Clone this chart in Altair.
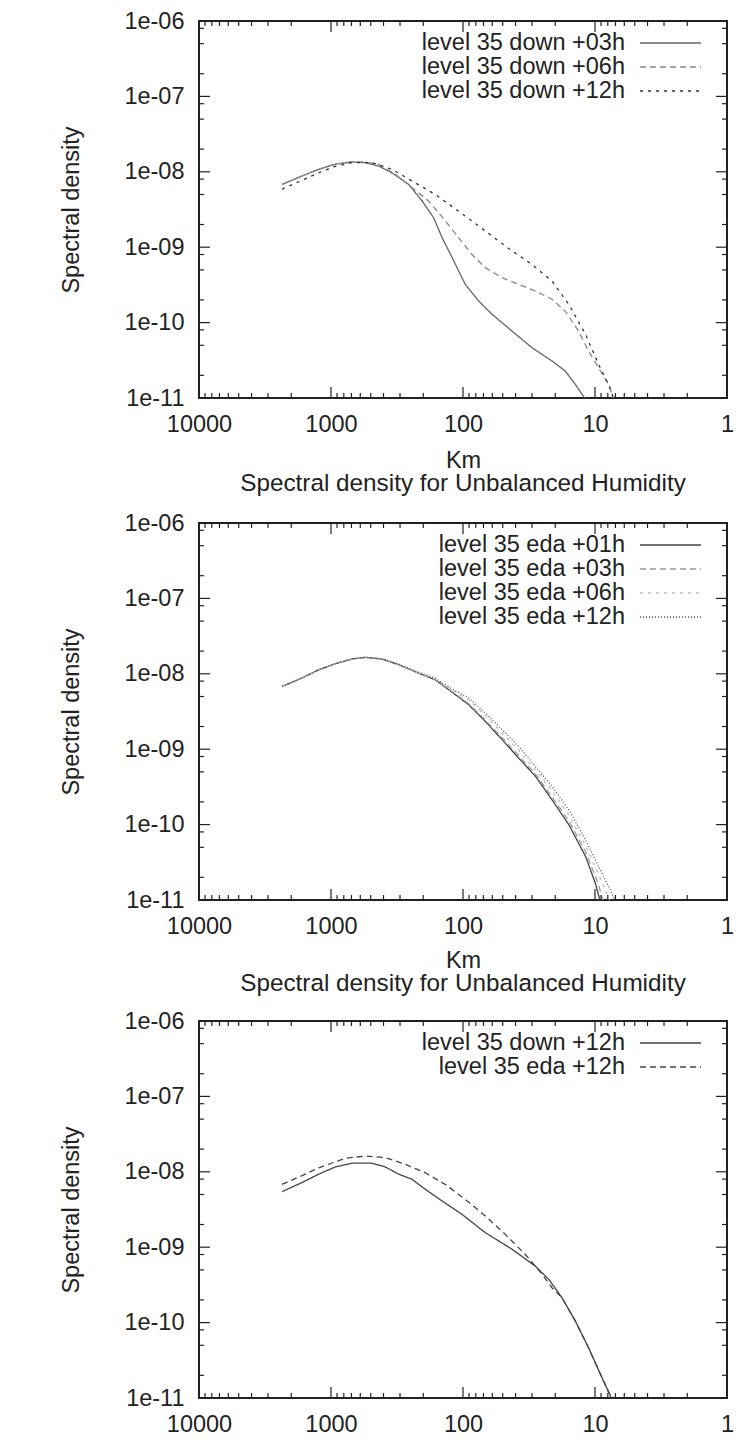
import altair as alt
import pandas as pd

FONT = "Liberation Sans"
FS = 23.5
TXT = "#222"
W, H = 528, 377

# ---- axis ticks / labels ----
x_major = [10000, 1000, 100, 10, 1]
x_labels = ["10000", "1000", "100", "10", "1"]
x_minor = [m * d for d in (1000, 100, 10, 1) for m in range(2, 10)]
y_major = [1e-6, 1e-7, 1e-8, 1e-9, 1e-10, 1e-11]
y_labels = ["1e-06", "1e-07", "1e-08", "1e-09", "1e-10", "1e-11"]
y_minor = [m * d for d in (1e-7, 1e-8, 1e-9, 1e-10, 1e-11) for m in (2, 5, 8)]

title_txt = "Spectral density for Unbalanced Humidity"

# ---- panel 1: level 35 down ----
p1_names = ["level 35 down +03h", "level 35 down +06h", "level 35 down +12h"]
p1_km_03 = [2350, 1658, 1240, 928, 693, 550, 435, 345, 258, 204, 167, 144, 121, 96, 76, 60.3, 42.5, 30.0, 21.2, 16.8, 14.1, 11.8]
p1_v_03 = [6.8e-9, 8.8e-9, 1.08e-8, 1.26e-8, 1.35e-8, 1.32e-8, 1.19e-8, 9.7e-9, 6.8e-9, 4.1e-9, 2.46e-9, 1.34e-9, 7.3e-10, 3.2e-10, 1.93e-10, 1.29e-10, 7.7e-11, 4.65e-11, 3.1e-11, 2.28e-11, 1.52e-11, 9.6e-12]
p1_km_06 = [2350, 1658, 1240, 928, 693, 550, 435, 326, 243, 182, 136, 108, 85.5, 67.8, 50.6, 37.8, 28.3, 21.2, 16.8, 13.3, 11.2, 9.4, 7.9, 7.2]
p1_v_06 = [6.8e-9, 8.8e-9, 1.08e-8, 1.27e-8, 1.36e-8, 1.34e-8, 1.26e-8, 9.3e-9, 6.15e-9, 4.1e-9, 2.23e-9, 1.34e-9, 8.0e-10, 5.35e-10, 3.94e-10, 3.22e-10, 2.62e-10, 2.04e-10, 1.42e-10, 7.7e-11, 4.2e-11, 2.52e-11, 1.52e-11, 9.6e-12]
p1_km_12 = [2350, 1658, 1240, 928, 693, 489, 345, 243, 162, 108, 67.8, 42.5, 30.0, 21.2, 15.8, 11.8, 9.4, 7.7, 7.2]
p1_v_12 = [5.9e-9, 7.7e-9, 9.7e-9, 1.18e-8, 1.32e-8, 1.32e-8, 1.08e-8, 7.55e-9, 5.0e-9, 3.0e-9, 1.64e-9, 8.9e-10, 5.9e-10, 3.56e-10, 1.75e-10, 7.0e-11, 2.8e-11, 1.37e-11, 9.6e-12]

# ---- panel 2: level 35 eda ----
p2_names = ["level 35 eda +01h", "level 35 eda +03h", "level 35 eda +06h", "level 35 eda +12h"]
p2_km_01 = [2350, 1658, 1240, 928, 693, 550, 411, 307, 217, 162, 121, 90.5, 67.8, 50.6, 37.8, 28.3, 21.2, 15.8, 11.8, 9.95, 9.12]
p2_v_01 = [6.8e-9, 8.8e-9, 1.13e-8, 1.36e-8, 1.57e-8, 1.65e-8, 1.57e-8, 1.32e-8, 1.02e-8, 8.3e-9, 5.7e-9, 3.89e-9, 2.34e-9, 1.34e-9, 7.6e-10, 4.4e-10, 2.14e-10, 1.0e-10, 3.8e-11, 1.68e-11, 9.6e-12]
p2_km_03 = [2350, 1658, 1240, 928, 693, 550, 411, 307, 217, 162, 121, 90.5, 67.8, 50.6, 37.8, 28.3, 21.2, 15.8, 11.8, 9.4, 8.7]
p2_v_03 = [6.8e-9, 8.8e-9, 1.13e-8, 1.36e-8, 1.57e-8, 1.65e-8, 1.57e-8, 1.32e-8, 1.02e-8, 8.35e-9, 5.8e-9, 4.0e-9, 2.45e-9, 1.42e-9, 8.2e-10, 4.7e-10, 2.35e-10, 1.12e-10, 4.4e-11, 1.6e-11, 9.6e-12]
p2_km_06 = [2350, 1658, 1240, 928, 693, 550, 411, 307, 217, 162, 121, 90.5, 67.8, 50.6, 37.8, 28.3, 21.2, 15.8, 11.8, 9.4, 7.7]
p2_v_06 = [6.8e-9, 8.8e-9, 1.13e-8, 1.36e-8, 1.57e-8, 1.66e-8, 1.58e-8, 1.33e-8, 1.03e-8, 8.5e-9, 6.1e-9, 4.5e-9, 2.8e-9, 1.65e-9, 9.7e-10, 5.3e-10, 2.8e-10, 1.35e-10, 5.3e-11, 2.2e-11, 9.6e-12]
p2_km_12 = [2350, 1658, 1240, 928, 693, 550, 411, 307, 217, 162, 121, 90.5, 67.8, 50.6, 37.8, 28.3, 21.2, 15.8, 11.8, 9.4, 7.9, 7.0]
p2_v_12 = [6.8e-9, 8.8e-9, 1.13e-8, 1.37e-8, 1.58e-8, 1.66e-8, 1.59e-8, 1.34e-8, 1.05e-8, 8.7e-9, 6.3e-9, 4.78e-9, 3.02e-9, 1.82e-9, 1.09e-9, 5.9e-10, 3.22e-10, 1.58e-10, 6.3e-11, 2.8e-11, 1.52e-11, 9.6e-12]

# ---- panel 3: down vs eda +12h ----
p3_names = ["level 35 down +12h", "level 35 eda +12h"]
p3_km_down = [2350, 1658, 1240, 928, 693, 489, 388, 307, 243, 193, 144, 101.8, 67.8, 42.5, 28.3, 22.4, 17.8, 14.1, 11.2, 8.85, 7.43]
p3_v_down = [5.45e-9, 7.2e-9, 9.3e-9, 1.16e-8, 1.30e-8, 1.30e-8, 1.16e-8, 9.3e-9, 7.95e-9, 5.86e-9, 4.1e-9, 2.73e-9, 1.56e-9, 9.4e-10, 5.6e-10, 3.75e-10, 2.14e-10, 1.05e-10, 4.65e-11, 1.86e-11, 9.6e-12]
p3_km_eda = [2350, 1658, 1240, 779, 550, 388, 274, 193, 136, 96.1, 67.8, 47.8, 33.7, 25.2, 21.2, 17.8, 14.1, 11.2, 8.85, 7.43]
p3_v_eda = [6.83e-9, 8.9e-9, 1.13e-8, 1.51e-8, 1.62e-8, 1.54e-8, 1.26e-8, 9.7e-9, 6.8e-9, 4.3e-9, 2.6e-9, 1.48e-9, 8.0e-10, 4.4e-10, 2.9e-10, 2.14e-10, 1.05e-10, 4.65e-11, 1.86e-11, 9.6e-12]


def chain_expr(values, labels):
    expr = "'" + labels[-1] + "'"
    for v, lab in reversed(list(zip(values[:-1], labels[:-1]))):
        expr = "datum.value > %g ? '%s' : %s" % (v / 3.1623, lab, expr)
    return expr


xscale = alt.Scale(type="log", domain=[1, 10000], reverse=True, nice=False)
yscale = alt.Scale(type="log", domain=[1e-11, 1e-6], nice=False)


def make_xaxis(title_pad):
    return alt.Axis(values=x_major, labelExpr=chain_expr(x_major, x_labels), ticks=False,
                    domain=False, grid=False, labelFontSize=FS, labelColor=TXT,
                    labelPadding=14, labelFlush=False, labelOverlap=False,
                    title="Km", titleFontSize=FS, titleFontWeight="normal",
                    titleColor=TXT, titlePadding=title_pad)


yaxis = alt.Axis(values=y_major, labelExpr=chain_expr(y_major, y_labels), ticks=False,
                 domain=False, grid=False, labelFontSize=FS, labelColor=TXT,
                 labelPadding=15, labelFlush=False, labelOverlap=False,
                 title="Spectral density", titleFontSize=FS, titleFontWeight="normal",
                 titleColor=TXT, titlePadding=40)

Y = alt.Y("v:Q", scale=yscale, axis=yaxis)

MAJ, MIN = 11, 5


def tick_layers(X):
    layers = []
    for vals, L in ((x_major, MAJ), (x_minor, MIN)):
        d = pd.DataFrame({"km": vals})
        layers.append(alt.Chart(d).mark_rule(color=TXT, strokeWidth=1.2).encode(
            x=X, y=alt.value(H), y2=alt.value(H - L)))
        layers.append(alt.Chart(d).mark_rule(color=TXT, strokeWidth=1.2).encode(
            x=X, y=alt.value(0), y2=alt.value(L)))
    for vals, L in ((y_major, MAJ), (y_minor, MIN)):
        d = pd.DataFrame({"v": vals})
        layers.append(alt.Chart(d).mark_rule(color=TXT, strokeWidth=1.2).encode(
            y=Y, x=alt.value(0), x2=alt.value(L)))
        layers.append(alt.Chart(d).mark_rule(color=TXT, strokeWidth=1.2).encode(
            y=Y, x=alt.value(W), x2=alt.value(W - L)))
    return layers


def make_panel(names, kms, vals, colors, dashes, title=None, km_pad=13, title_off=15):
    X = alt.X("km:Q", scale=xscale, axis=make_xaxis(km_pad))
    rows = []
    for name, km, v in zip(names, kms, vals):
        for i, (k, val) in enumerate(zip(km, v)):
            rows.append({"s": name, "km": k, "v": val, "o": i})
    df = pd.DataFrame(rows)
    lines = alt.Chart(df).mark_line(clip=True, strokeWidth=1.3).encode(
        x=X, y=Y,
        color=alt.Color("s:N", scale=alt.Scale(domain=names, range=colors), legend=None),
        strokeDash=alt.StrokeDash("s:N", scale=alt.Scale(domain=names, range=dashes), legend=None),
        order="o:Q",
    )
    legend = []
    for i, (name, c, d) in enumerate(zip(names, colors, dashes)):
        ly = 22 + 24 * i
        ld = pd.DataFrame({"s": [name]})
        legend.append(alt.Chart(ld).mark_text(align="right", baseline="middle", font=FONT,
                                              fontSize=23.5, color=TXT).encode(
            text="s:N", x=alt.value(426), y=alt.value(ly)))
        legend.append(alt.Chart(ld).mark_rule(color=c, strokeDash=d, strokeWidth=1.3).encode(
            x=alt.value(441), x2=alt.value(502), y=alt.value(ly)))
    props = dict(width=W, height=H)
    if title:
        props["title"] = alt.Title(title, fontSize=24.3, fontWeight="normal", font=FONT,
                                   color=TXT, offset=title_off, frame="group")
    return alt.layer(lines, *tick_layers(X), *legend).properties(**props)


p1 = make_panel(p1_names, [p1_km_03, p1_km_06, p1_km_12], [p1_v_03, p1_v_06, p1_v_12],
                ["#666", "#888", "#333"], [[1, 0], [6, 4], [3, 5]])
p2 = make_panel(p2_names, [p2_km_01, p2_km_03, p2_km_06, p2_km_12],
                [p2_v_01, p2_v_03, p2_v_06, p2_v_12],
                ["#444", "#999", "#bbb", "#555"], [[1, 0], [6, 4], [3, 5], [1, 2]], title_txt,
                km_pad=11)
p3 = make_panel(p3_names, [p3_km_down, p3_km_eda], [p3_v_down, p3_v_eda],
                ["#444", "#444"], [[1, 0], [6, 4]], title_txt, title_off=13)

chart = alt.vconcat(p1, p2, p3, spacing=-3).resolve_scale(
    color="independent", strokeDash="independent"
).properties(
    padding={"left": 50, "top": 0, "right": 5, "bottom": 0}
).configure_view(
    stroke=TXT, strokeWidth=2
).configure_axis(
    labelFont=FONT, titleFont=FONT
).configure_title(font=FONT)

chart.save("out.html", embed_options={"renderer": "svg", "actions": False})
